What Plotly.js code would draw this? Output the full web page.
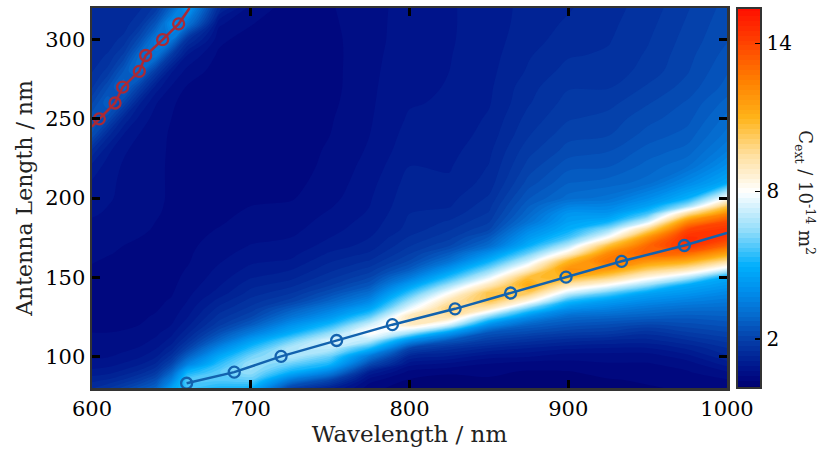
<!DOCTYPE html>
<html>
<head>
<meta charset="utf-8">
<script src="https://cdn.plot.ly/plotly-3.0.1.min.js"></script>
<style>html,body{margin:0;padding:0;background:#fff;}#chart{width:825px;height:450px;}</style>
</head>
<body>
<div id="chart"></div>
<script>
// Grid of the map: wavelength (nm) columns, antenna length (nm) rows
const wavelengths = [600,610,620,630,640,650,660,680,700,725,750,775,800,825,850,875,900,925,950,975,1000];
const lengths = [80,85,90,95,100,105,110,115,120,125,130,135,140,145,150,155,160,165,170,175,180,185,190,195,200,210,220,230,240,250,260,270,280,290,300,310,320];

// Extinction cross-section (1e-14 m^2) read per wavelength column, one value per length row
const c600 = [1.5,1.25,1.0,0.8,0.68,0.6,0.55,0.52,0.5,0.5,0.48,0.47,0.46,0.46,0.48,0.5,0.53,0.56,0.6,0.63,0.67,0.7,0.74,0.77,0.82,0.9,1.05,1.47,2.3,2.5,2.1,1.69,1.51,1.44,1.43,1.38,1.43];
const c610 = [1.7,1.35,1.05,0.85,0.7,0.62,0.56,0.52,0.5,0.48,0.47,0.46,0.45,0.45,0.46,0.48,0.5,0.53,0.56,0.6,0.63,0.66,0.7,0.72,0.76,0.78,0.84,0.97,1.4,2.2,2.7,2.3,1.8,1.54,1.43,1.41,1.41];
const c620 = [2.0,1.55,1.2,0.95,0.78,0.67,0.59,0.53,0.5,0.48,0.46,0.45,0.44,0.44,0.45,0.46,0.48,0.5,0.52,0.55,0.57,0.6,0.62,0.64,0.65,0.67,0.69,0.75,0.91,1.28,2.1,2.9,2.55,1.98,1.58,1.42,1.38];
const c630 = [2.4,1.85,1.4,1.1,0.88,0.74,0.64,0.57,0.52,0.49,0.47,0.45,0.44,0.44,0.44,0.45,0.46,0.48,0.5,0.52,0.54,0.56,0.58,0.59,0.6,0.6,0.6,0.64,0.71,0.85,1.15,1.95,3.1,3.0,2.24,1.69,1.48];
const c640 = [2.8,2.3,1.75,1.35,1.08,0.9,0.76,0.66,0.58,0.54,0.5,0.48,0.46,0.45,0.45,0.45,0.46,0.47,0.48,0.5,0.51,0.52,0.53,0.54,0.55,0.55,0.55,0.56,0.58,0.64,0.74,1.04,1.85,3.3,3.37,2.47,1.78];
const c650 = [4.5,3.6,2.8,2.1,1.6,1.25,1.0,0.85,0.72,0.64,0.58,0.54,0.5,0.48,0.47,0.46,0.46,0.46,0.47,0.48,0.48,0.49,0.5,0.5,0.5,0.5,0.5,0.5,0.5,0.52,0.55,0.7,0.95,1.79,3.32,3.93,2.83];
const c660 = [5.5,5.8,5.0,3.6,2.7,2.0,1.55,1.25,1.05,0.9,0.8,0.72,0.66,0.6,0.56,0.53,0.5,0.49,0.48,0.47,0.46,0.45,0.45,0.45,0.45,0.45,0.45,0.45,0.45,0.45,0.45,0.5,0.65,0.91,1.6,3.28,4.31];
const c680 = [5.2,5.8,5.9,5.4,4.7,3.8,2.9,2.3,1.85,1.6,1.4,1.2,1.0,0.9,0.82,0.76,0.7,0.65,0.6,0.56,0.53,0.5,0.48,0.46,0.45,0.43,0.41,0.4,0.4,0.4,0.4,0.4,0.42,0.47,0.58,0.76,1.38];
const c700 = [5.0,5.9,6.5,6.6,6.1,5.3,4.4,3.4,2.6,2.1,1.8,1.6,1.4,1.25,1.1,0.98,0.88,0.8,0.73,0.67,0.62,0.58,0.55,0.52,0.5,0.46,0.43,0.41,0.4,0.4,0.4,0.4,0.4,0.4,0.4,0.53,0.62];
const c725 = [2.0,3.4,5.0,6.0,6.9,6.9,6.0,4.8,4.0,3.2,2.6,2.0,1.7,1.45,1.25,1.1,0.95,0.85,0.78,0.72,0.66,0.62,0.58,0.55,0.5,0.46,0.43,0.41,0.4,0.4,0.4,0.4,0.4,0.41,0.42,0.44,0.45];
const c750 = [1.2,2.1,3.6,5.1,6.0,7.0,7.5,6.4,5.2,4.2,3.5,2.8,2.3,1.9,1.65,1.45,1.3,1.15,1.0,0.92,0.85,0.8,0.75,0.7,0.65,0.6,0.57,0.55,0.52,0.5,0.47,0.45,0.45,0.45,0.46,0.48,0.5];
const c775 = [0.4,0.6,1.1,2.2,3.3,5.2,7.0,8.2,7.3,5.9,4.7,3.8,3.1,2.5,2.1,1.8,1.55,1.35,1.2,1.12,1.05,1.0,0.95,0.92,0.9,0.85,0.8,0.75,0.72,0.7,0.69,0.68,0.67,0.66,0.65,0.65,0.65];
const c800 = [0.2,0.3,0.45,0.8,1.3,2.1,4.0,6.8,8.9,9.1,7.7,6.6,5.5,4.4,3.4,2.6,2.15,1.9,1.7,1.55,1.4,1.36,1.32,1.28,1.25,1.2,1.12,1.05,1.0,0.95,0.9,0.88,0.86,0.84,0.82,0.81,0.8];
const c825 = [0.2,0.25,0.35,0.65,1.1,1.6,2.5,4.4,7.4,9.3,10.0,9.2,8.0,6.6,5.3,4.2,3.2,2.6,2.1,1.85,1.7,1.55,1.4,1.3,1.25,1.15,1.1,1.05,1.0,0.97,0.95,0.93,0.92,0.91,0.9,0.9,0.9];
const c850 = [0.2,0.3,0.35,0.5,0.8,1.3,1.9,2.5,4.0,6.3,8.9,10.4,10.5,9.0,7.5,6.2,5.0,4.0,3.0,2.55,2.1,1.9,1.75,1.65,1.55,1.4,1.33,1.27,1.2,1.15,1.1,1.08,1.06,1.04,1.02,1.0,1.0];
const c875 = [0.2,0.2,0.3,0.4,0.75,1.1,1.6,2.2,2.8,4.0,5.9,8.4,10.2,11.3,10.6,8.8,7.3,6.0,4.9,4.3,3.8,3.2,2.9,2.7,2.5,2.2,2.0,1.85,1.7,1.6,1.5,1.45,1.35,1.3,1.25,1.22,1.2];
const c900 = [0.2,0.25,0.3,0.45,0.6,0.95,1.4,1.95,2.45,3.0,4.0,5.3,7.3,9.2,11.0,12.0,10.9,8.6,6.9,5.6,4.9,4.5,4.2,3.6,3.0,2.7,2.45,2.2,2.05,1.9,1.8,1.7,1.6,1.5,1.4,1.35,1.3];
const c925 = [0.25,0.3,0.4,0.5,0.6,0.9,1.3,1.85,2.3,2.85,3.6,4.4,5.9,8.0,10.0,11.8,12.8,12.2,10.5,8.0,6.5,5.0,4.2,3.7,3.2,2.8,2.5,2.3,2.1,2.0,1.85,1.7,1.6,1.55,1.5,1.47,1.45];
const c950 = [0.3,0.35,0.4,0.5,0.6,0.9,1.25,1.6,2.1,2.7,3.25,3.9,4.6,6.5,8.4,10.2,11.9,13.3,13.1,12.0,9.8,7.3,5.6,4.5,3.9,3.0,2.8,2.6,2.4,2.25,2.1,1.95,1.8,1.75,1.7,1.65,1.6];
const c975 = [0.35,0.4,0.5,0.6,0.85,1.15,1.5,1.9,2.25,2.6,3.05,3.6,4.2,4.8,7.0,9.2,11.2,13.0,14.5,14.6,13.9,12.2,9.5,6.5,4.9,3.8,3.1,2.8,2.6,2.45,2.35,2.2,2.1,2.05,2.0,1.95,1.9];
const c1000 = [0.4,0.5,0.7,1.0,1.3,1.5,1.8,2.1,2.4,2.7,3.0,3.4,3.8,4.3,4.8,7.4,9.5,11.5,13.2,14.3,14.5,13.8,12.3,10.2,8.0,4.7,4.0,3.5,3.2,3.0,2.8,2.6,2.5,2.4,2.3,2.25,2.2];

// Resonance positions (circles)
const blueWavelength = [659.6,689.6,719.1,754.1,789.2,828.7,863.7,898.6,933.6,973.1];
const blueLength = [83,90,100,110,120,130,140,150,160,170];
const blueLineEnd = [1000,178];
const redWavelength = [604.6,614.5,619.3,629.8,633.8,644.5,654.6];
const redLength = [250,260,270,280,290,300,310];
const redLineStart = [600,245];
const redLineEnd = [661.5,320];

const colorTicks = [2,8,14];
const xTicks = [600,700,800,900,1000];
const yTicks = [100,150,200,250,300];

const columns = [c600,c610,c620,c630,c640,c650,c660,c680,c700,c725,c750,c775,c800,c825,c850,c875,c900,c925,c950,c975,c1000];
const z = lengths.map((_, i) => columns.map(col => col[i]));

const zmin = 0.08, zmax = 15.44;
const stops = [[0.08,'rgb(0,0,108)'],[0.5,'rgb(0,8,128)'],[1.0,'rgb(0,24,142)'],[2.0,'rgb(5,62,168)'],[3.0,'rgb(5,105,205)'],[4.0,'rgb(0,142,236)'],[5.0,'rgb(0,175,252)'],[6.5,'rgb(150,222,250)'],[8.0,'rgb(255,255,255)'],[9.5,'rgb(255,224,160)'],[11.0,'rgb(255,180,25)'],[12.5,'rgb(255,128,0)'],[14.0,'rgb(255,68,0)'],[15.44,'rgb(255,15,0)']];
const colorscale = stops.map(s => [(s[0]-zmin)/(zmax-zmin), s[1]]);

const FONT = 'DejaVu Serif, serif';
const blue = '#1262ae';
const red = '#aa2a36';

const traces = [
  {
    type: 'contour', x: wavelengths, y: lengths, z: z,
    zmin: zmin, zmax: zmax, zauto: false,
    colorscale: colorscale,
    contours: {start: 0.12, end: 15.32, size: 0.2, coloring: 'fill', showlines: false},
    line: {width: 0},
    colorbar: {
      x: 1.0157, xanchor: 'left', xpad: 0, ypad: 0,
      y: 0.5, yanchor: 'middle', len: 1, lenmode: 'fraction',
      thickness: 24, outlinewidth: 2, outlinecolor: '#333',
      tickmode: 'array', tickvals: colorTicks, ticktext: colorTicks.map(String),
      ticks: 'inside', ticklen: 7, tickwidth: 1.5, tickcolor: '#000',
      tickfont: {family: FONT, size: 20, color: '#000'}
    },
    hoverinfo: 'skip'
  },
  {
    type: 'scatter', mode: 'lines',
    x: redLineStart.slice(0,1).concat(redWavelength, [redLineEnd[0]]),
    y: redLineStart.slice(1).concat(redLength, [redLineEnd[1]]),
    line: {color: red, width: 2.5}, showlegend: false, hoverinfo: 'skip'
  },
  {
    type: 'scatter', mode: 'markers', x: redWavelength, y: redLength,
    marker: {symbol: 'circle-open', size: 11, color: red, line: {width: 2.3, color: red}},
    showlegend: false, hoverinfo: 'skip'
  },
  {
    type: 'scatter', mode: 'lines',
    x: blueWavelength.concat([blueLineEnd[0]]), y: blueLength.concat([blueLineEnd[1]]),
    line: {color: blue, width: 2.5}, showlegend: false, hoverinfo: 'skip'
  },
  {
    type: 'scatter', mode: 'markers', x: blueWavelength, y: blueLength,
    marker: {symbol: 'circle-open', size: 11, color: blue, line: {width: 2.3, color: blue}},
    showlegend: false, hoverinfo: 'skip'
  }
];

const axisCommon = {
  ticks: 'inside', ticklen: 8, tickwidth: 3, tickcolor: '#000',
  showline: true, linecolor: '#333', linewidth: 2.5, mirror: 'ticks',
  showgrid: false, zeroline: false,
  tickfont: {family: FONT, size: 21, color: '#000'},
  tickmode: 'array'
};

const layout = {
  width: 825, height: 450,
  margin: {l: 92, r: 98, t: 8, b: 62},
  paper_bgcolor: '#fff', plot_bgcolor: '#fff',
  font: {family: FONT, color: '#000'},
  showlegend: false,
  xaxis: Object.assign({}, axisCommon, {
    range: [600, 1000], tickvals: xTicks, ticktext: xTicks.map(String),
    title: {text: 'Wavelength / nm', font: {family: FONT, size: 23, color: '#222'}, standoff: 3}
  }),
  yaxis: Object.assign({}, axisCommon, {
    range: [80, 320], tickvals: yTicks, ticktext: yTicks.map(String),
    title: {text: 'Antenna Length / nm', font: {family: FONT, size: 22, color: '#222'}, standoff: 7}
  }),
  annotations: [{
    xref: 'paper', yref: 'paper', x: 1.123, y: 0.515, xanchor: 'center', yanchor: 'middle',
    text: 'C<sub>ext</sub> / 10<sup>-14</sup> m<sup>2</sup>', textangle: 90, showarrow: false,
    font: {family: FONT, size: 18, color: '#222'}
  }]
};

Plotly.newPlot('chart', traces, layout, {displayModeBar: false, staticPlot: true});
</script>
</body>
</html>
